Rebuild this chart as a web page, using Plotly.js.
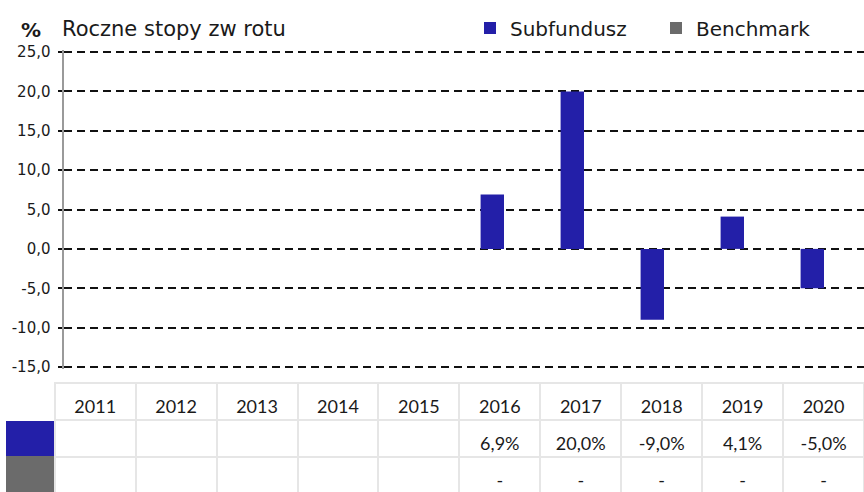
<!DOCTYPE html>
<html>
<head>
<meta charset="utf-8">
<script src="https://cdn.plot.ly/plotly-3.0.1.min.js"></script>
<style>html,body{margin:0;padding:0;background:#fff;}#chart{width:864px;height:492px;}</style>
</head>
<body>
<div id="chart"></div>
<script>
// ---- data ----
const years = ['2011','2012','2013','2014','2015','2016','2017','2018','2019','2020'];
const subfundusz = [null, null, null, null, null, 6.9, 20.0, -9.0, 4.1, -5.0];
const benchmark = [null, null, null, null, null, null, null, null, null, null];
const benchmarkLabels = ['', '', '', '', '', '-', '-', '-', '-', '-'];
const yTicks = [-15, -10, -5, 0, 5, 10, 15, 20, 25];
const yTickText = yTicks.map(v => v.toFixed(1).replace('.', ','));

const BLUE = '#231FA8';
const GREY = '#6b6b6b';
const GRID = '#e6e6e6';
const W = 864, H = 492;

function fmt(v){ return v === null ? '' : v.toFixed(1).replace('.', ',') + '%'; }

const barSub = {
  type: 'bar', name: 'Subfundusz', x: years, y: subfundusz,
  marker: {color: BLUE, line: {width: 0}}, hoverinfo: 'skip'
};
const barBen = {
  type: 'bar', name: 'Benchmark', x: years, y: benchmark,
  marker: {color: GREY, line: {width: 0}}, hoverinfo: 'skip', showlegend: true
};

// table: first column = colour swatches, then one column per year
const colW = [48].concat(years.map(() => 81.4));
const emptyHeader = [''].concat(years.map(() => ''));
const emptyCells = [['', '']].concat(years.map(() => ['', '']));
const cellFill = [[BLUE, GREY]].concat(years.map(() => ['white', 'white']));
const cellLine = [[BLUE, GREY]].concat(years.map(() => [GRID, GRID]));
const headerLine = ['white'].concat(years.map(() => GRID));

const tableDomainX = [7 / W, 1];
// grid + fills
const tableGrid = {
  type: 'table',
  domain: {x: tableDomainX, y: [0, 1 - 383 / H]},
  columnwidth: colW,
  header: {values: emptyHeader, height: 37, fill: {color: 'white'}, line: {color: headerLine, width: 2}},
  cells: {values: emptyCells, height: 37, fill: {color: cellFill}, line: {color: cellLine, width: 2}}
};
// texts (placed lower inside the same cells)
const TXT_FONT = {family: 'Lato, sans-serif', size: 18, color: '#1a1a1a'};
const tableText = {
  type: 'table',
  domain: {x: tableDomainX, y: [0, 1 - 391 / H]},
  columnwidth: colW,
  header: {values: [''].concat(years), align: 'center', height: 37,
           fill: {color: 'rgba(0,0,0,0)'}, line: {color: 'rgba(0,0,0,0)', width: 0}, font: TXT_FONT},
  cells: {values: [['', '']].concat(years.map((y, i) => [fmt(subfundusz[i]), benchmarkLabels[i]])),
          align: 'center', height: 37,
          fill: {color: 'rgba(0,0,0,0)'}, line: {color: 'rgba(0,0,0,0)', width: 0}, font: TXT_FONT}
};

const pxPerUnit = 315 / 40;
const ext = 2 / pxPerUnit;

const layout = {
  width: W, height: H,
  margin: {l: 0, r: 0, t: 0, b: 0},
  paper_bgcolor: 'white', plot_bgcolor: 'white',
  barmode: 'group', bargap: 0.415, bargroupgap: 0,
  showlegend: true,
  legend: {
    orientation: 'h', x: 470 / W, xanchor: 'left', y: 1 - 28 / H, yanchor: 'middle',
    font: {family: 'DejaVu Sans, sans-serif', size: 20, color: '#1a1a1a'},
    entrywidth: 141, bgcolor: 'rgba(0,0,0,0)', traceorder: 'normal'
  },
  xaxis: {
    domain: [64 / W, 1], type: 'category', showticklabels: false, showgrid: false,
    showline: false, zeroline: false, ticks: '', fixedrange: true
  },
  yaxis: {
    domain: [1 - 369 / H, 1 - 50 / H], range: [-15 - ext, 25 + ext],
    tickvals: yTicks, ticktext: yTickText,
    showgrid: true, gridcolor: '#111', gridwidth: 2,
    griddash: '8px,5px', zeroline: false, showline: true, linecolor: '#9a9a9a', linewidth: 2.5,
    ticks: 'outside', ticklen: 4, tickcolor: '#111', tickwidth: 2,
    ticklabelstandoff: 4,
    tickfont: {family: 'DejaVu Sans, sans-serif', size: 15, color: '#1a1a1a'}
  },
  annotations: [
    {text: '<b>%</b>', x: 19 / W, y: 1 - 30 / H, xref: 'paper', yref: 'paper', xanchor: 'left', yanchor: 'middle',
     showarrow: false, font: {family: 'DejaVu Sans, sans-serif', size: 20, color: '#1a1a1a'}},
    {text: 'Roczne stopy zw rotu', x: 60 / W, y: 1 - 29 / H, xref: 'paper', yref: 'paper', xanchor: 'left', yanchor: 'middle',
     showarrow: false, font: {family: 'DejaVu Sans, sans-serif', size: 21, color: '#1a1a1a'}}
  ]
};

Plotly.newPlot('chart', [barSub, barBen, tableGrid, tableText], layout, {displayModeBar: false, staticPlot: true});
</script>
</body>
</html>
